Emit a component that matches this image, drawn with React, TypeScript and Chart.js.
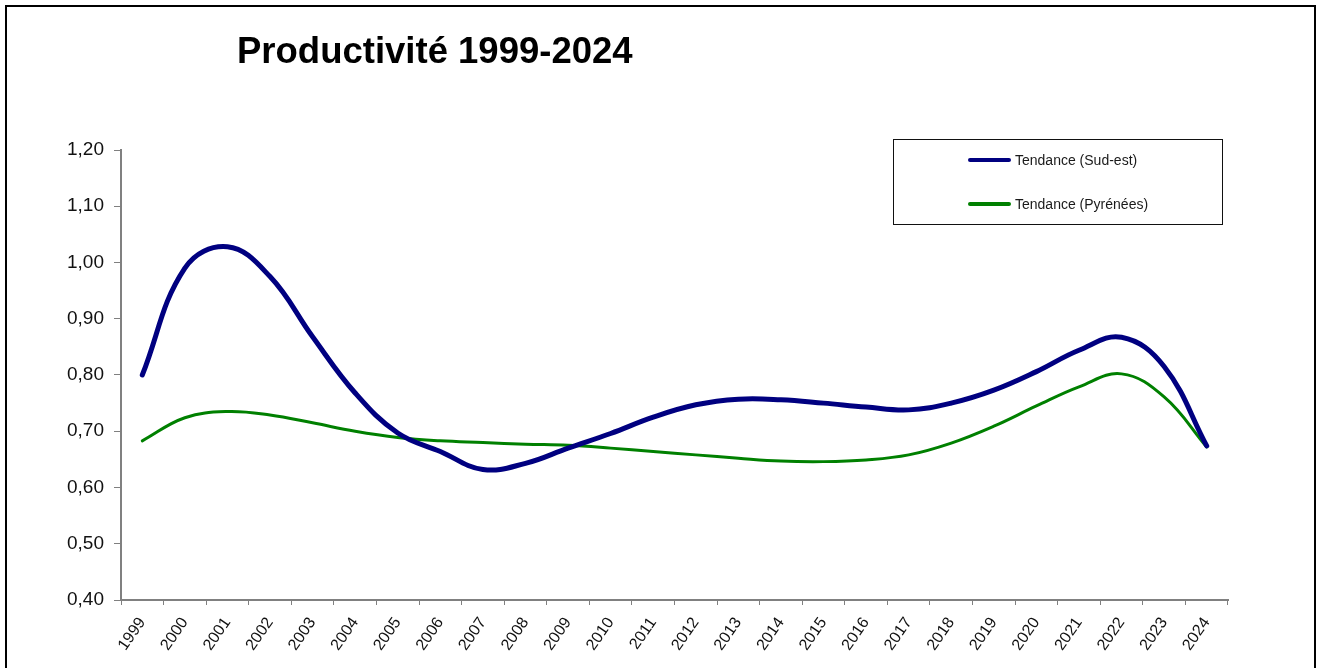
import React, { useEffect, useRef } from "react";
import { Chart, registerables } from "chart.js";

Chart.register(...registerables);

// Years on the category axis
const years: string[] = [
  "1999", "2000", "2001", "2002", "2003", "2004", "2005", "2006", "2007",
  "2008", "2009", "2010", "2011", "2012", "2013", "2014", "2015", "2016",
  "2017", "2018", "2019", "2020", "2021", "2022", "2023", "2024",
];

// Trend, Sud-est
const tendanceSudEst: number[] = [
  0.800, 0.990, 1.028, 0.975, 0.868, 0.768, 0.697, 0.664, 0.632,
  0.643, 0.670, 0.696, 0.725, 0.747, 0.757, 0.756, 0.750, 0.743,
  0.738, 0.750, 0.773, 0.806, 0.844, 0.867, 0.815, 0.674,
];

// Trend, Pyrénées
const tendancePyrenees: number[] = [
  0.683, 0.724, 0.735, 0.729, 0.715, 0.700, 0.689, 0.683, 0.680,
  0.677, 0.675, 0.670, 0.664, 0.658, 0.652, 0.647, 0.646, 0.649,
  0.658, 0.679, 0.709, 0.745, 0.779, 0.802, 0.761, 0.672,
];

const seriesNames: string[] = ["Tendance (Sud-est)", "Tendance (Pyrénées)"];
const seriesColors: string[] = ["#000080", "#008000"];

const titleText = "Productivité 1999-2024";
const FONT = "'Liberation Sans', Arial, sans-serif";

const W = 1318;
const H = 668;

// Title drawn left of centre, above the plot
const titlePlugin = {
  id: "leftTitle",
  afterDraw(chart: Chart) {
    const ctx = chart.ctx;
    ctx.save();
    ctx.font = `bold 36.5px ${FONT}`;
    ctx.fillStyle = "#000";
    ctx.textAlign = "left";
    ctx.textBaseline = "alphabetic";
    ctx.fillText(titleText, 237, 63);
    ctx.restore();
  },
};

// Framed legend box in the upper right of the plot
const boxLegendPlugin = {
  id: "boxLegend",
  afterDraw(chart: Chart) {
    const ctx = chart.ctx;
    ctx.save();
    ctx.fillStyle = "#fff";
    ctx.fillRect(894, 140, 328, 84);
    ctx.strokeStyle = "#111";
    ctx.lineWidth = 1;
    ctx.strokeRect(893.5, 139.5, 329, 85);
    const rows = [160, 204];
    chart.data.datasets.forEach((ds: any, i: number) => {
      const y = rows[i];
      ctx.strokeStyle = ds.borderColor;
      ctx.lineWidth = 4;
      ctx.lineCap = "round";
      ctx.beginPath();
      ctx.moveTo(970, y);
      ctx.lineTo(1009, y);
      ctx.stroke();
      ctx.fillStyle = "#1a1a1a";
      ctx.font = `14px ${FONT}`;
      ctx.textAlign = "left";
      ctx.textBaseline = "middle";
      ctx.fillText(ds.label, 1015, y + 1);
    });
    ctx.restore();
  },
};

export default function App() {
  const canvasRef = useRef<HTMLCanvasElement | null>(null);

  useEffect(() => {
    const canvas = canvasRef.current;
    if (!canvas) return;
    const chart = new Chart(canvas, {
      type: "line",
      data: {
        labels: years,
        datasets: [
          {
            label: seriesNames[0],
            data: tendanceSudEst,
            borderColor: seriesColors[0],
            backgroundColor: seriesColors[0],
            borderWidth: 5,
            pointRadius: 0,
            tension: 0.4,
            borderCapStyle: "round",
            fill: false,
          },
          {
            label: seriesNames[1],
            data: tendancePyrenees,
            borderColor: seriesColors[1],
            backgroundColor: seriesColors[1],
            borderWidth: 3,
            pointRadius: 0,
            tension: 0.4,
            borderCapStyle: "round",
            fill: false,
          },
        ],
      },
      options: {
        responsive: false,
        animation: false,
        layout: { padding: { top: 150, right: 90, bottom: 0, left: 0 } },
        plugins: {
          legend: { display: false },
          title: { display: false },
          tooltip: { enabled: false },
        },
        scales: {
          x: {
            type: "category",
            offset: true,
            grid: {
              offset: true,
              drawOnChartArea: false,
              drawTicks: true,
              tickLength: 5,
              color: "#808080",
              lineWidth: 1,
            },
            border: { display: true, color: "#808080", width: 2 },
            ticks: {
              color: "#111",
              font: { family: FONT, size: 16 },
              minRotation: 55,
              maxRotation: 55,
              padding: 9,
              autoSkip: false,
            },
            afterFit(scale: any) {
              scale.height = 68;
            },
          },
          y: {
            min: 0.4,
            max: 1.2,
            grid: {
              drawOnChartArea: false,
              drawTicks: true,
              tickLength: 7,
              color: "#808080",
              lineWidth: 1,
            },
            border: { display: true, color: "#808080", width: 2 },
            ticks: {
              stepSize: 0.1,
              color: "#111",
              font: { family: FONT, size: 19 },
              padding: 10,
              callback: (v: any) => Number(v).toFixed(2).replace(".", ","),
            },
            afterFit(scale: any) {
              scale.width = 121;
            },
          },
        },
      },
      plugins: [titlePlugin, boxLegendPlugin],
    });
    return () => chart.destroy();
  }, []);

  return (
    <div
      style={{
        position: "fixed",
        left: 0,
        top: 0,
        width: W,
        height: H,
        background: "#fff",
        overflow: "hidden",
      }}
    >
      <canvas ref={canvasRef} width={W} height={H} style={{ display: "block" }} />
      <div
        style={{
          position: "absolute",
          left: 5,
          top: 5,
          width: 1307,
          height: 720,
          border: "2px solid #000",
          pointerEvents: "none",
        }}
      />
    </div>
  );
}
